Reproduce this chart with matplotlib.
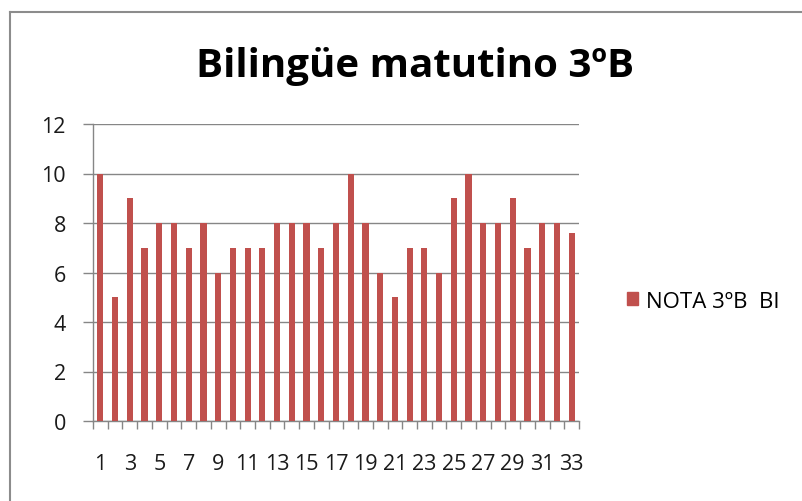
import matplotlib
matplotlib.use("Agg")
import matplotlib.pyplot as plt
from matplotlib.patches import Rectangle

students = list(range(1, 34))
notas = [10, 5, 9, 7, 8, 8, 7, 8, 6, 7, 7, 7, 8, 8, 8, 7, 8, 10, 8, 6,
         5, 7, 7, 6, 9, 10, 8, 8, 9, 7, 8, 8, 7.6]
series_name = "NOTA 3ºB  BI"
title = "Bilingüe matutino 3ºB"
yticks = [0, 2, 4, 6, 8, 10, 12]

bar_color = "#C0504D"
grid_color = "#868686"
font = "Open Sans"

W, H = 803, 502
fig = plt.figure(figsize=(W / 100, H / 100), dpi=100)
fig.patch.set_facecolor("white")

# chart border (left + top visible)
fig.add_artist(plt.Line2D([10 / W, 10 / W], [0, 1 - 13 / H], transform=fig.transFigure,
                          color="#8C8C8C", lw=1.5))
fig.add_artist(plt.Line2D([10 / W, 1], [1 - 13 / H, 1 - 13 / H], transform=fig.transFigure,
                          color="#8C8C8C", lw=1.5))

left, right, top, bottom = 93, 579, 125, 422
ax = fig.add_axes([left / W, 1 - bottom / H, (right - left) / W, (bottom - top) / H])

x = list(range(len(students)))
ax.bar(x, notas, width=0.42, color=bar_color, label=series_name, zorder=3)

ax.set_xlim(-0.5, len(students) - 0.5)
ax.set_ylim(0, 12)
ax.set_yticks(yticks)
ax.set_yticklabels([str(v) for v in yticks], fontsize=15.5, family=font)
ax.yaxis.grid(True, color=grid_color, lw=1, zorder=0)

ax.set_xticks(x[::2])
ax.set_xticklabels([str(s) for s in students[::2]], fontsize=15.5, family=font)
ax.set_xticks([i - 0.5 for i in range(len(students) + 1)], minor=True)
ax.tick_params(axis="x", which="major", length=0, pad=23, labelcolor="#1a1a1a")
ax.tick_params(axis="x", which="minor", length=6, color=grid_color, width=1)
ax.tick_params(axis="y", length=7.5, color=grid_color, width=1, pad=12, labelcolor="#1a1a1a")

for s in ["top", "right"]:
    ax.spines[s].set_visible(False)
for s in ["left", "bottom"]:
    ax.spines[s].set_color(grid_color)
    ax.spines[s].set_linewidth(1)

fig.text(415 / W, 1 - 67 / H, title, ha="center", va="center", fontsize=29,
         fontweight="bold", family=font, color="black")

# legend
fig.legend(handles=[Rectangle((0, 0), 1, 1, color=bar_color)], labels=[series_name],
           loc="center left", bbox_to_anchor=(627 / W, 1 - 302 / H), frameon=False,
           prop={"family": font, "size": 16}, handlelength=0.5, handleheight=0.5,
           handletextpad=0.35, borderaxespad=0, borderpad=0)

fig.savefig("out.png", dpi=100)
